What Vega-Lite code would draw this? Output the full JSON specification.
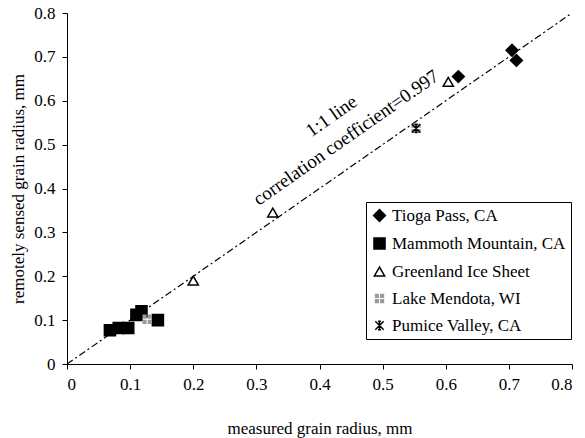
{
  "$schema": "https://vega.github.io/schema/vega-lite/v6.json",
  "width": 505,
  "height": 351,
  "autosize": {"type": "none"},
  "padding": {"left": 67, "top": 13, "right": 13, "bottom": 74},
  "background": "white",
  "config": {
    "view": {"stroke": null},
    "font": "Liberation Serif",
    "axis": {
      "grid": false,
      "domainColor": "black",
      "tickColor": "black",
      "labelColor": "black",
      "titleColor": "black",
      "labelFont": "Liberation Serif",
      "titleFont": "Liberation Serif",
      "labelFontSize": 17,
      "titleFontSize": 17,
      "titleFontWeight": "normal",
      "tickSize": 5,
      "labelPadding": 7
    },
    "legend": {
      "labelFont": "Liberation Serif",
      "labelFontSize": 17,
      "labelColor": "black",
      "labelLimit": 400
    }
  },
  "layer": [
    {
      "data": {"values": [{"x": 0, "y": 0}, {"x": 0.8, "y": 0.8}]},
      "mark": {"type": "line", "color": "black", "strokeWidth": 1.2, "strokeDash": [7, 3, 2, 3]},
      "encoding": {
        "x": {"field": "x", "type": "quantitative"},
        "y": {"field": "y", "type": "quantitative"}
      }
    },
    {
      "data": {
        "values": [
          {"site": "Tioga Pass, CA", "measured": 0.62, "sensed": 0.655},
          {"site": "Tioga Pass, CA", "measured": 0.705, "sensed": 0.715},
          {"site": "Tioga Pass, CA", "measured": 0.712, "sensed": 0.692},
          {"site": "Mammoth Mountain, CA", "measured": 0.068, "sensed": 0.077},
          {"site": "Mammoth Mountain, CA", "measured": 0.082, "sensed": 0.082},
          {"site": "Mammoth Mountain, CA", "measured": 0.097, "sensed": 0.082},
          {"site": "Mammoth Mountain, CA", "measured": 0.144, "sensed": 0.1},
          {"site": "Mammoth Mountain, CA", "measured": 0.11, "sensed": 0.112},
          {"site": "Mammoth Mountain, CA", "measured": 0.118, "sensed": 0.12},
          {"site": "Greenland Ice Sheet", "measured": 0.2, "sensed": 0.19},
          {"site": "Greenland Ice Sheet", "measured": 0.326, "sensed": 0.345},
          {"site": "Greenland Ice Sheet", "measured": 0.604, "sensed": 0.643},
          {"site": "Lake Mendota, WI", "measured": 0.127, "sensed": 0.102},
          {"site": "Lake Mendota, WI", "measured": 0.553, "sensed": 0.537},
          {"site": "Pumice Valley, CA", "measured": 0.553, "sensed": 0.537}
        ]
      },
      "mark": {"type": "point", "filled": true, "strokeWidth": 1.5, "opacity": 1},
      "encoding": {
        "x": {
          "field": "measured", "type": "quantitative",
          "scale": {"domain": [0, 0.8], "nice": false, "zero": true},
          "axis": {"values": [0, 0.1, 0.2, 0.3, 0.4, 0.5, 0.6, 0.7, 0.8],
                   "labelExpr": "datum.value == 0 ? '0' : format(datum.value, '.1f')",
                   "title": "measured grain radius, mm", "titlePadding": 28}
        },
        "y": {
          "field": "sensed", "type": "quantitative",
          "scale": {"domain": [0, 0.8], "nice": false, "zero": true},
          "axis": {"values": [0, 0.1, 0.2, 0.3, 0.4, 0.5, 0.6, 0.7, 0.8],
                   "labelExpr": "datum.value == 0 ? '0' : format(datum.value, '.1f')",
                   "title": "remotely sensed grain radius, mm", "titlePadding": 6}
        },
        "shape": {
          "field": "site", "type": "nominal",
          "scale": {
            "domain": ["Tioga Pass, CA", "Mammoth Mountain, CA", "Greenland Ice Sheet", "Lake Mendota, WI", "Pumice Valley, CA"],
            "range": ["diamond", "square", "triangle-up",
                      "M-1,-1H-0.12V-0.12H-1Z M0.12,-1H1V-0.12H0.12Z M-1,0.12H-0.12V1H-1Z M0.12,0.12H1V1H0.12Z",
                      "M-1,-1L1,1M1,-1L-1,1M0,-1L0,1M-0.35,-1H0.35M-0.35,1H0.35"]
          },
          "legend": {
            "title": null, "orient": "none", "legendX": 299, "legendY": 189,
            "strokeColor": "black", "fillColor": "white", "padding": 5,
            "rowPadding": 9, "labelOffset": 4, "symbolStrokeWidth": 1.5,
            "symbolOpacity": 1, "labelFontSize": 17, "labelLimit": 400
          }
        },
        "fill": {
          "field": "site", "type": "nominal",
          "scale": {
            "domain": ["Tioga Pass, CA", "Mammoth Mountain, CA", "Greenland Ice Sheet", "Lake Mendota, WI", "Pumice Valley, CA"],
            "range": ["black", "black", "white", "#9a9a9a", "transparent"]
          },
          "legend": {
            "title": null, "orient": "none", "legendX": 299, "legendY": 189,
            "strokeColor": "black", "fillColor": "white", "padding": 5,
            "rowPadding": 9, "labelOffset": 4, "symbolStrokeWidth": 1.5,
            "symbolOpacity": 1, "labelFontSize": 17, "labelLimit": 400
          }
        },
        "stroke": {
          "field": "site", "type": "nominal",
          "scale": {
            "domain": ["Tioga Pass, CA", "Mammoth Mountain, CA", "Greenland Ice Sheet", "Lake Mendota, WI", "Pumice Valley, CA"],
            "range": ["black", "black", "black", "transparent", "black"]
          },
          "legend": {
            "title": null, "orient": "none", "legendX": 299, "legendY": 189,
            "strokeColor": "black", "fillColor": "white", "padding": 5,
            "rowPadding": 9, "labelOffset": 4, "symbolStrokeWidth": 1.5,
            "symbolOpacity": 1, "labelFontSize": 17, "labelLimit": 400
          }
        },
        "size": {
          "field": "site", "type": "nominal",
          "scale": {
            "domain": ["Tioga Pass, CA", "Mammoth Mountain, CA", "Greenland Ice Sheet", "Lake Mendota, WI", "Pumice Valley, CA"],
            "range": [140, 70, 130, 120, 130]
          },
          "legend": {
            "title": null, "orient": "none", "legendX": 299, "legendY": 189,
            "strokeColor": "black", "fillColor": "white", "padding": 5,
            "rowPadding": 9, "labelOffset": 4, "symbolStrokeWidth": 1.5,
            "symbolOpacity": 1, "labelFontSize": 17, "labelLimit": 400
          }
        }
      }
    },
    {
      "data": {"values": [{"label": "1:1 line", "x": 0.419, "y": 0.565}, {"label": "correlation coefficient=0.997", "x": 0.442, "y": 0.516}]},
      "mark": {"type": "text", "angle": 325, "font": "Liberation Serif", "fontSize": 19, "color": "black", "align": "center", "baseline": "middle"},
      "encoding": {
        "x": {"field": "x", "type": "quantitative"},
        "y": {"field": "y", "type": "quantitative"},
        "text": {"field": "label"}
      }
    }
  ]
}
